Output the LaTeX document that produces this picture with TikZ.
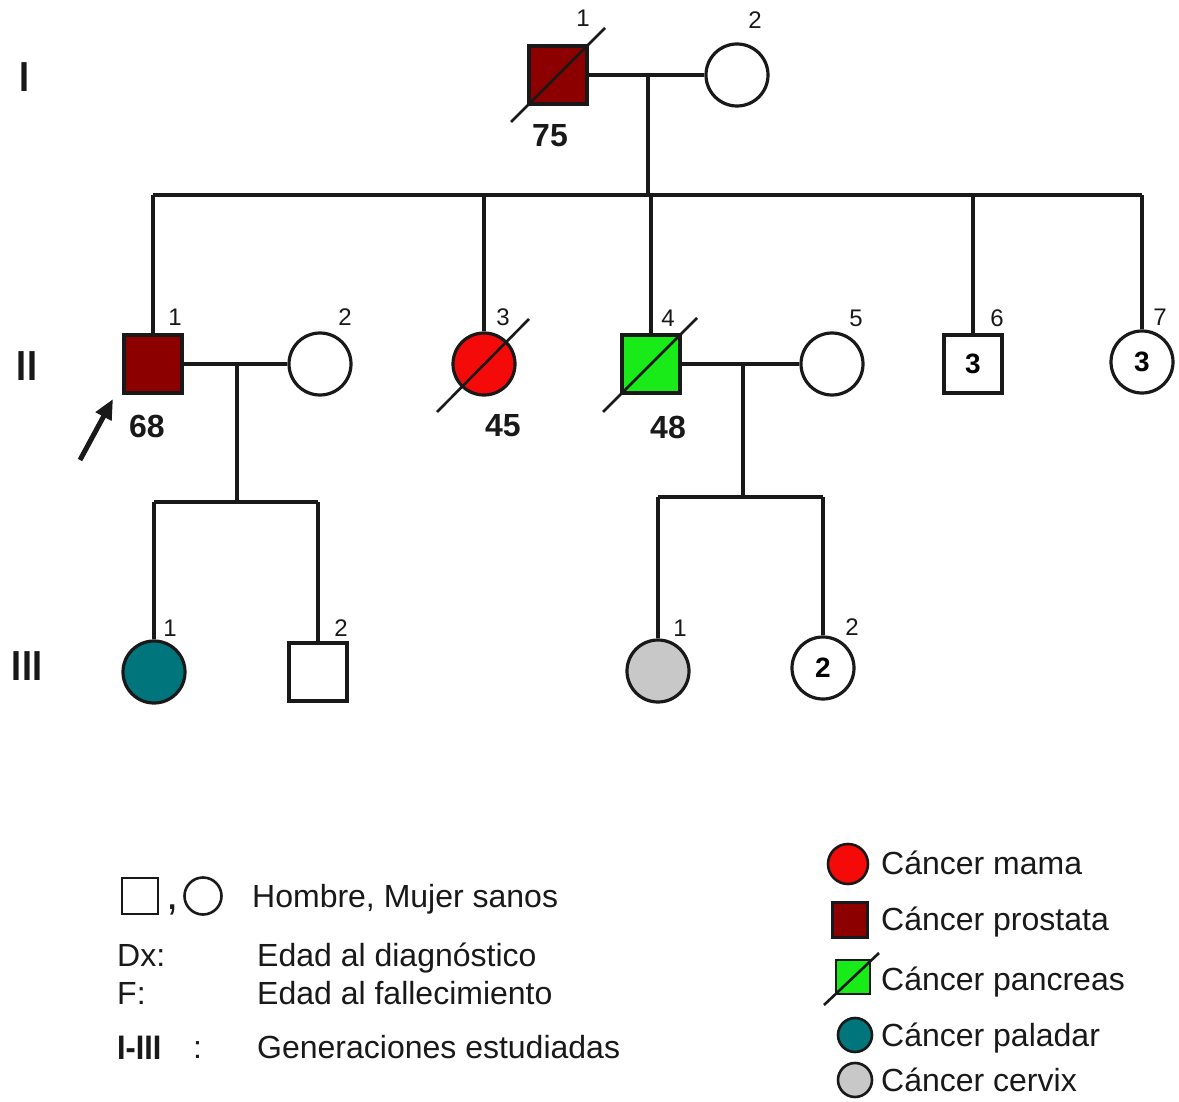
\documentclass[tikz,border=0pt]{standalone}
\usepackage{fontspec}
\setmainfont{Liberation Sans}
\usetikzlibrary{arrows.meta}
\definecolor{ink}{RGB}{25,25,25}
\definecolor{prostata}{RGB}{140,0,0}
\definecolor{mama}{RGB}{245,10,10}
\definecolor{pancreas}{RGB}{25,235,25}
\definecolor{paladar}{RGB}{0,118,124}
\definecolor{cervix}{RGB}{200,200,200}
\begin{document}
\begin{tikzpicture}[x=1pt,y=-1pt,
  male/.style={draw=ink, line width=3.2pt, rectangle, minimum size=58pt, inner sep=0pt,
    font=\fontsize{28}{28}\selectfont\bfseries},
  female/.style={draw=ink, line width=3.2pt, circle, minimum size=62pt, inner sep=0pt,
    font=\fontsize{28}{28}\selectfont\bfseries},
  line/.style={draw=ink, line width=3.2pt},
  slash/.style={draw=ink, line width=2.6pt},
  num/.style={font=\fontsize{24}{24}\selectfont, text=ink, inner sep=0pt},
  age/.style={font=\fontsize{32}{32}\selectfont\bfseries, text=ink, inner sep=0pt},
  gen/.style={font=\fontsize{40}{40}\selectfont\bfseries, text=ink, inner sep=0pt, yscale=1.05, xscale=0.9},
  legtext/.style={font=\fontsize{32}{32}\selectfont, text=ink, anchor=base west, inner sep=0pt},
  legsq/.style={draw=ink, line width=2.6pt, rectangle, minimum size=35pt, inner sep=0pt},
  legci/.style={draw=ink, line width=2.6pt, circle, minimum size=34pt, inner sep=0pt}]

% canvas
\fill[white] (0,0) rectangle (1179,1102);
\useasboundingbox (0,0) rectangle (1179,1102);

% generation labels
\node[gen] (gI) at (25,77) {I};
\node[gen] (gII) at (27,366) {II};
\node[gen] (gIII) at (27,666) {III};

% ---- generation I
\node[male, fill=prostata] (I1) at (558,75) {};
\node[female, fill=white] (I2) at (737,75) {};
\draw[slash] (I1.center) ++(-47,47) -- ++(94,-94);
\node[num] (nI1) at (583,18) {1};
\node[num] (nI2) at (755,20) {2};
\node[age] (aI1) at (550,136) {75};
\draw[line] (I1.east) -- (I2.west);
\coordinate (m1) at (648,75);
\coordinate (d1) at (648,195);
\draw[line] (m1) -- (d1);

% ---- generation II
\node[male, fill=prostata] (II1) at (153,364) {};
\node[female, fill=white] (II2) at (320,364) {};
\node[female, fill=mama] (II3) at (484,364) {};
\node[male, fill=pancreas] (II4) at (651,364) {};
\node[female, fill=white] (II5) at (832,364) {};
\node[male, fill=white] (II6) at (973,364) {3};
\node[female, fill=white] (II7) at (1142,362) {3};
\draw[slash] (II3.center) ++(-47,48) -- ++(92,-93);
\draw[slash] (II4.center) ++(-48,48) -- ++(94,-94);

\node[num] (nII1) at (175,317) {1};
\node[num] (nII2) at (345,317) {2};
\node[num] (nII3) at (503,317) {3};
\node[num] (nII4) at (668,318) {4};
\node[num] (nII5) at (856,318) {5};
\node[num] (nII6) at (997,318) {6};
\node[num] (nII7) at (1160,317) {7};
\node[age] (aII1) at (147,426) {68};
\node[age] (aII3) at (503,426) {45};
\node[age] (aII4) at (668,427) {48};

% sibship of generation II
\draw[line] (II1.north |- d1) -- (II7.north |- d1);
\foreach \c in {II1,II3,II4,II6,II7}
  \draw[line] (\c.north |- d1) -- (\c.north);

% proband arrow
\coordinate (pb) at (80,460);
\coordinate (pt) at (113,399);
\draw[draw=ink, line width=5pt, -{Triangle[length=20pt,width=17pt]}] (pb) -- (pt);

% couples of generation II
\draw[line] (II1.east) -- (II2.west);
\coordinate (m2) at (237,364);
\coordinate (d2) at (237,502);
\draw[line] (m2) -- (d2);
\draw[line] (II4.east) -- (II5.west);
\coordinate (m3) at (743,364);
\coordinate (d3) at (743,497);
\draw[line] (m3) -- (d3);

% ---- generation III
\node[female, fill=paladar] (III1) at (154,672) {};
\node[male, fill=white] (III2) at (318,672) {};
\node[female, fill=cervix] (III3) at (658,671) {};
\node[female, fill=white] (III4) at (823,668) {2};
\node[num] (nIII1) at (170,628) {1};
\node[num] (nIII2) at (341,628) {2};
\node[num] (nIII3) at (680,628) {1};
\node[num] (nIII4) at (852,627) {2};

\draw[line] (III1.north |- d2) -- (III2.north |- d2);
\draw[line] (III1.north |- d2) -- (III1.north);
\draw[line] (III2.north |- d2) -- (III2.north);
\draw[line] (III3.north |- d3) -- (III4.north |- d3);
\draw[line] (III3.north |- d3) -- (III3.north);
\draw[line] (III4.north |- d3) -- (III4.north);

% ---- legend, left
\node[legsq, fill=white, minimum size=36pt] (lsq) at (140,896) {};
\node[font=\fontsize{44}{44}\selectfont, text=ink, inner sep=0pt] (lcomma) at (173,910) {,};
\node[legci, fill=white, minimum size=37pt] (lci) at (203,896) {};
\node[legtext] (tHM) at (252,907) {Hombre, Mujer sanos};
\node[legtext] (tDx) at (117,966) {Dx:};
\node[legtext] (tDxd) at (257,966) {Edad al diagnóstico};
\node[legtext] (tF) at (117,1004) {F:};
\node[legtext] (tFd) at (257,1004) {Edad al fallecimiento};
\node[legtext, font=\fontsize{34}{34}\selectfont\bfseries, xscale=0.9] (tG) at (117,1059) {I-III};
\node[legtext] (tGc) at (193,1058) {:};
\node[legtext] (tGd) at (257,1058) {Generaciones estudiadas};

% ---- legend, right
\node[legci, fill=mama, minimum size=40pt] (lmama) at (848,864) {};
\node[legsq, fill=prostata] (lpros) at (850,920) {};
\node[legsq, fill=pancreas, minimum size=34pt] (lpanc) at (853,977) {};
\draw[slash] (lpanc.center) ++(-29,28) -- ++(55,-52);
\node[legci, fill=paladar] (lpal) at (855,1035) {};
\node[legci, fill=cervix] (lcer) at (855,1080) {};
\node[legtext] (tmama) at (881,874) {Cáncer mama};
\node[legtext] (tpros) at (881,930) {Cáncer prostata};
\node[legtext] (tpanc) at (881,990) {Cáncer pancreas};
\node[legtext] (tpal) at (881,1046) {Cáncer paladar};
\node[legtext] (tcer) at (881,1091) {Cáncer cervix};
\end{tikzpicture}
\end{document}
